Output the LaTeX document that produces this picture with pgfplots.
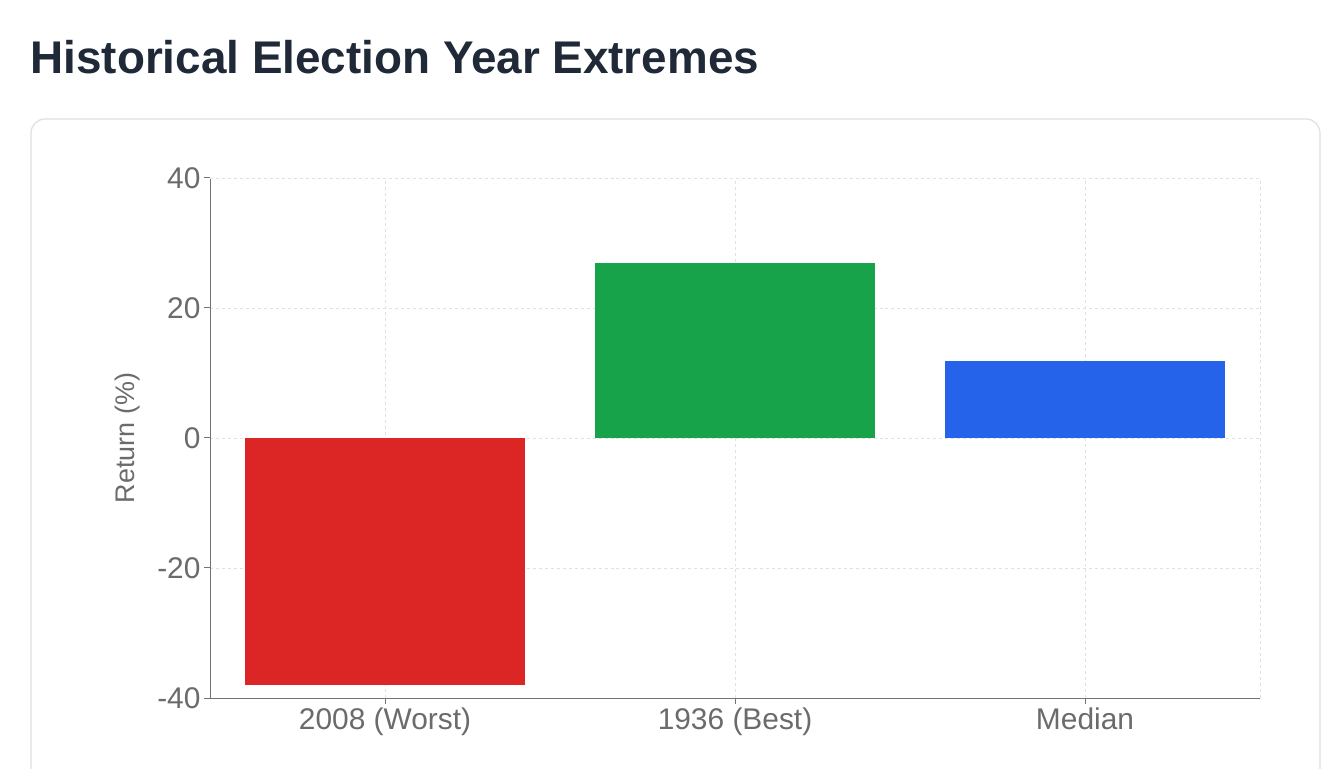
\documentclass[border=0pt]{standalone}
\usepackage{pgfplots}
\pgfplotsset{compat=1.18}
\usepackage{fontspec}
\setmainfont{Liberation Sans}
\definecolor{tgray}{HTML}{6B6B6B}
\definecolor{ttl}{HTML}{1F2937}
\definecolor{cred}{HTML}{DC2626}
\definecolor{cgreen}{HTML}{16A34A}
\definecolor{cblue}{HTML}{2563EB}
\begin{document}
\begin{tikzpicture}[x=1bp,y=1bp]
\useasboundingbox (0,0) rectangle (1326,768);
\fill[white] (0,0) rectangle (1326,768);
\draw[color=black!12, line width=1.2bp, rounded corners=14bp] (31,-30) rectangle (1320,649);
\node[anchor=west, text=ttl, font=\fontsize{46}{52}\selectfont\bfseries] at (27,711) {Historical Election Year Extremes};
\begin{axis}[
  at={(210bp,70bp)}, anchor=south west,
  scale only axis, width=1050bp, height=520bp,
  xmin=-0.5, xmax=2.5, ymin=-40, ymax=40,
  axis lines=left, axis line style={-, draw=black!55, line width=1bp},
  xtick={0,1,2}, xticklabels={2008 (Worst),1936 (Best),Median},
  ytick={-40,-20,0,20,40},
  tick style={draw=black!55, line width=1bp},
  tick align=outside, major tick length=6bp,
  ticklabel style={text=tgray, font=\fontsize{30}{34}\selectfont},
  grid=major, grid style={dashed, draw=black!12, line width=0.9bp},
  ylabel={Return (\%)}, ylabel style={text=tgray, font=\fontsize{27}{30}\selectfont},
  ylabel shift=10bp,
  /pgf/number format/assume math mode=true,
  ybar, bar width=0.8, bar shift=0pt,
  clip=false,
]
\draw[dashed, draw=black!12, line width=0.9bp] (axis cs:2.5,-40) -- (axis cs:2.5,40);
\draw[dashed, draw=black!12, line width=0.9bp] (axis cs:-0.5,40) -- (axis cs:2.5,40);
\addplot[fill=cred, draw=none] coordinates {(0,-38.0)};
\addplot[fill=cgreen, draw=none] coordinates {(1,26.9)};
\addplot[fill=cblue, draw=none] coordinates {(2,11.8)};
\end{axis}
\end{tikzpicture}
\end{document}
